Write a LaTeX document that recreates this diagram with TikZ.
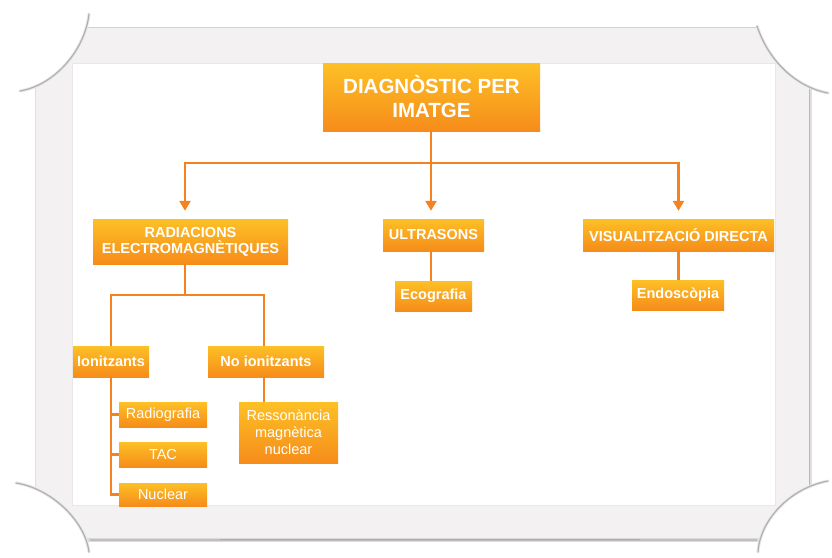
\documentclass[tikz,border=0pt]{standalone}
\usepackage{fontspec}
\setmainfont{Liberation Sans}
\usetikzlibrary{arrows.meta}
\definecolor{boxtop}{RGB}{253,192,38}
\definecolor{boxbot}{RGB}{246,140,26}
\definecolor{linkcol}{RGB}{244,130,32}
\definecolor{matte}{RGB}{243,241,241}

\begin{document}
\begin{tikzpicture}[x=1pt,y=-1pt,
  box/.style={top color=boxtop, bottom color=boxbot, text=white, inner sep=0pt,
    align=center, font=\bfseries\fontsize{14.5}{16}\selectfont},
  leaf/.style={box, font=\fontsize{14.5}{17}\selectfont},
  link/.style={draw=linkcol, line width=2.4pt},
  arrowlink/.style={link, -{Triangle[width=11pt,length=10pt]}, shorten >=8pt},
  curlshade/.style={draw=gray!62, line width=1.2pt, line cap=round},
  curlsoft/.style={draw=gray!18, line width=3pt, line cap=round},
]
\useasboundingbox (0,0) rectangle (832,557);
\fill[white] (0,0) rectangle (832,557);

% the mounted sheet: matte border and white card
\fill[matte] (35,27) rectangle (810,540);
\fill[white] (72,63) rectangle (775,505);
\draw[gray!18, line width=0.6pt] (72,63) rectangle (775,505);

% sheet edges and their shadows
\draw[gray!35, line width=0.7pt] (60,27) -- (780,27);
\draw[gray!25, line width=0.6pt] (35,60) -- (35,510);
\draw[gray!25, line width=3pt] (810,70) -- (810,520);
\draw[gray!55, line width=1.1pt] (809.5,70) -- (809.5,520);
\draw[gray!28, line width=3.5pt] (70,540) -- (780,540);
\draw[gray!50, line width=2pt] (90,539.5) -- (757,539.5);
\draw[gray!65, line width=1.5pt] (220,539.5) -- (640,539.5);

% ---- chart boxes ----
\node[box, font=\bfseries\fontsize{20.5}{24}\selectfont,
      minimum width=217pt, minimum height=68pt] (root) at (431.5,97)
      {DIAGNÒSTIC PER\\IMATGE};

\node[box, minimum width=195pt, minimum height=45pt] (rad) at (190.5,241.5)
      {RADIACIONS\\ELECTROMAGNÈTIQUES};
\node[box, minimum width=101pt, minimum height=32pt] (ult) at (433.5,235)
      {ULTRASONS};
\node[box, minimum width=191pt, minimum height=32pt] (vis) at (678.5,235)
      {VISUALITZACIÓ DIRECTA};

\node[box, minimum width=77pt, minimum height=30pt] (eco) at (433.5,296)
      {Ecografia};
\node[box, minimum width=92pt, minimum height=30pt] (endo) at (678,295)
      {Endoscòpia};

\node[box, minimum width=76pt, minimum height=31pt] (ion) at (111,361.5)
      {Ionitzants};
\node[box, minimum width=116pt, minimum height=31pt] (noion) at (266,361.5)
      {No ionitzants};

\node[leaf, minimum width=88pt, minimum height=25pt] (radio) at (163,414.5)
      {Radiografia};
\node[leaf, minimum width=88pt, minimum height=25pt] (tac) at (163,454.5)
      {TAC};
\node[leaf, minimum width=88pt, minimum height=23pt] (nuc) at (163,494.5)
      {Nuclear};
\node[leaf, minimum width=99pt, minimum height=61pt] (res) at (288.5,432.5)
      {Ressonància\\magnètica\\nuclear};

% ---- connectors ----
\coordinate (hub) at (431,163);
\draw[link] (root.south -| hub) -- (hub);
\draw[arrowlink] (hub) -| ([xshift=-5.5pt]rad.north);
\draw[arrowlink] (hub) -- (hub |- ult.north);
\draw[arrowlink] (hub) -| (vis.north);

\draw[link] (ult.south -| hub) -- (hub |- eco.north);
\draw[link] (vis.south) -- (vis.south |- endo.north);

\coordinate (radhub) at (185,295);
\draw[link] ([xshift=-5.5pt]rad.south) -- (radhub);
\draw[link] (radhub) -| (ion.north);
\draw[link] (radhub) -| ([xshift=-2pt]noion.north);

\draw[link] (ion.south) |- (radio.west);
\draw[link] (ion.south) |- (tac.west);
\draw[link] (ion.south) |- (nuc.west);
\draw[link] ([xshift=-2pt]noion.south) -- ([xshift=-2pt]noion.south |- res.north);

% ---- curled corners of the sheet ----
\fill[white] (90,8) .. controls (85,50) and (55,85) .. (15,92) -- (0,92) -- (0,0) -- (90,0) -- cycle;
\fill[white] (755,20) .. controls (770,65) and (800,88) .. (832,93) -- (832,0) -- (755,0) -- cycle;
\fill[white] (10,482) .. controls (50,488) and (85,520) .. (90,557) -- (0,557) -- (0,482) -- cycle;
\fill[white] (832,480) .. controls (790,488) and (760,520) .. (757,557) -- (832,557) -- cycle;

\foreach \s in {curlsoft, curlshade} {
  \draw[\s] (89,14) .. controls (85,50) and (55,85) .. (20,91);
  \draw[\s] (757,26) .. controls (770,65) and (800,88) .. (828,93);
  \draw[\s] (16,483) .. controls (50,488) and (85,520) .. (89,552);
  \draw[\s] (828,481) .. controls (790,488) and (760,520) .. (758,552);
}
\end{tikzpicture}
\end{document}
